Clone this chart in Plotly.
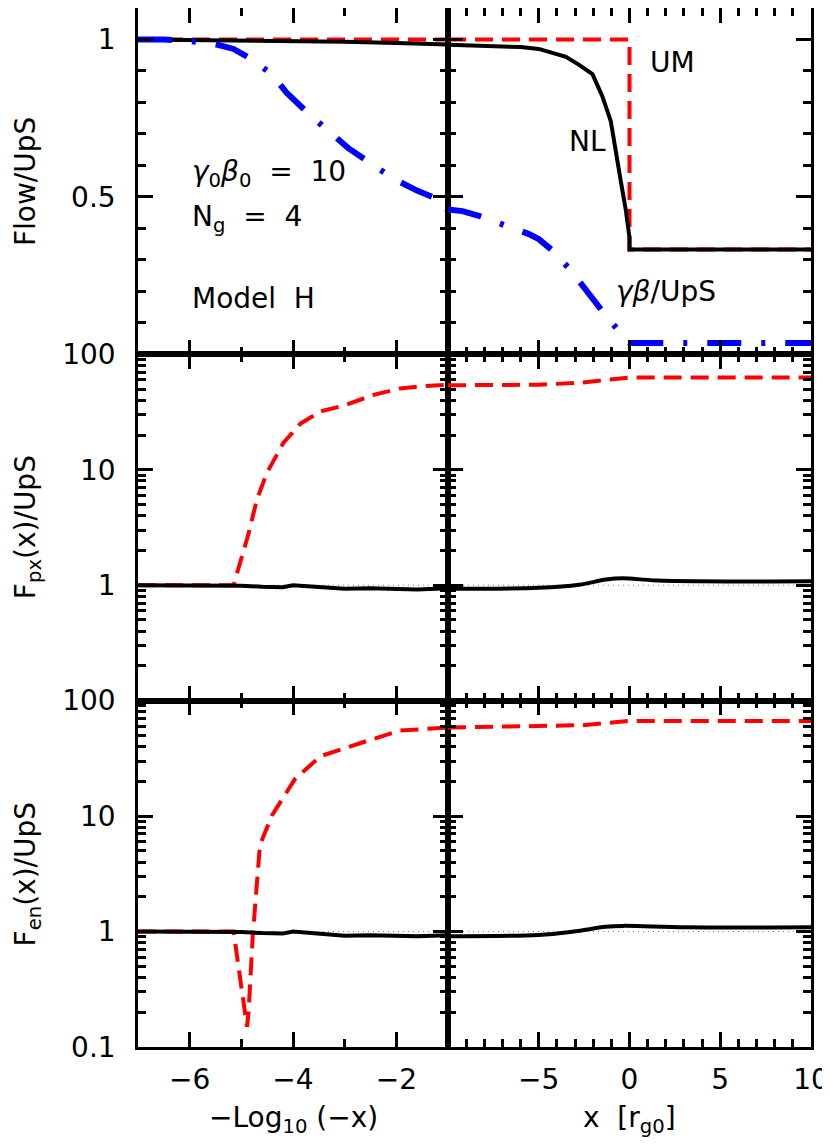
import plotly.graph_objects as go
from plotly.subplots import make_subplots

# 上段: Flow/UpS
um_left_x = [-7, -1]
um_left_y = [1.0, 1.0]
um_right_x = [-10, 0, 0, 10]
um_right_y = [1.0, 1.0, 0.333, 0.333]

nl_left_x = [-7, -6, -5, -4, -3, -2, -1]
nl_left_y = [1.0, 0.999, 0.998, 0.996, 0.993, 0.989, 0.984]
nl_right_x = [-10, -8, -6, -5, -3.5, -2.8, -2.04, -1.5, -1.03, -0.48, -0.2, 0, 0, 10]
nl_right_y = [0.983, 0.98, 0.976, 0.97, 0.945, 0.92, 0.89, 0.82, 0.74, 0.55, 0.457, 0.37, 0.333, 0.333]

gb_left_x = [-7, -6.5, -6, -5.5, -5.15, -4.83, -4.41, -4.12, -3.67, -3.31, -2.93, -2.44, -2.02, -1.6, -1.3, -1.08, -1]
gb_left_y = [1.0, 1.0, 0.995, 0.985, 0.97, 0.94, 0.89, 0.83, 0.76, 0.71, 0.655, 0.60, 0.555, 0.52, 0.50, 0.477, 0.456]
gb_right_x = [-10, -9.2, -8.3, -7, -5.54, -5, -4.25, -3.24, -2.41, -1.4, -0.48, 0, 10]
gb_right_y = [0.46, 0.455, 0.44, 0.414, 0.382, 0.366, 0.33, 0.267, 0.203, 0.13, 0.067, 0.036, 0.036]

# 中段: F_px/UpS
px_um_left_x = [-7, -6, -5.15, -4.86, -4.70, -4.51, -4.19, -3.86, -3.47, -3.02, -2.44, -1.93, -1.5, -1]
px_um_left_y = [1.0, 1.0, 1.0, 2.8, 5.5, 9.3, 17, 25, 32, 36, 44.5, 50.7, 53, 54.5]
px_um_right_x = [-10, -5, -2.6, -1.1, 0, 5, 10]
px_um_right_y = [54, 54.5, 57, 60, 63, 63, 63]
px_nl_left_x = [-7, -6, -5, -4.6, -4.2, -4.0, -3.5, -3.0, -2.5, -2, -1.6, -1]
px_nl_left_y = [1.0, 1.0, 0.99, 0.97, 0.96, 1.0, 0.96, 0.93, 0.94, 0.925, 0.92, 0.94]
px_nl_right_x = [-10, -5, -2.78, -1.3, -0.38, 1.5, 10]
px_nl_right_y = [0.93, 0.95, 1.01, 1.12, 1.15, 1.10, 1.08]

# 下段: F_en/UpS
en_um_left_x = [-7, -6, -5.15, -4.93, -4.89, -4.86, -4.78, -4.64, -4.41, -3.96, -3.47, -2.69, -1.93, -1]
en_um_left_y = [1.0, 1.0, 1.0, 0.2, 0.15, 0.2, 0.9, 5.6, 10.1, 21, 33, 43, 55, 58.5]
en_um_right_x = [-10, -5, -2.6, -0.94, 0, 5, 10]
en_um_right_y = [58.5, 59.6, 61.3, 64.6, 66.8, 66.5, 66.5]
en_nl_left_x = [-7, -6, -5, -4.6, -4.2, -4.0, -3.5, -3.0, -2.5, -2, -1.6, -1]
en_nl_left_y = [1.0, 1.0, 0.99, 0.97, 0.96, 1.0, 0.96, 0.92, 0.93, 0.91, 0.91, 0.93]
en_nl_right_x = [-10, -5, -3.1, -1.3, -0.4, 3.1, 10]
en_nl_right_y = [0.91, 0.935, 1.0, 1.1, 1.12, 1.09, 1.09]

# 基準線 (=1)
ref_left_x = [-7, -1]
ref_right_x = [-10, 10]
ref_y = [1, 1]

log_minor = [0.2, 0.3, 0.4, 0.5, 0.6, 0.7, 0.8, 0.9,
             2, 3, 4, 5, 6, 7, 8, 9,
             20, 30, 40, 50, 60, 70, 80, 90]

FONT = 'DejaVu Sans'
red = dict(color='#ff0000', width=4, dash='18px,9px')
black = dict(color='black', width=4)
blue = dict(color='#0000ff', width=6, dash='34px,20px,4px,20px')
dotted = dict(color='#777777', width=1, dash='1px,4px')

fig = make_subplots(rows=3, cols=2, column_widths=[310, 363],
                    horizontal_spacing=0, vertical_spacing=0)


def add(x, y, line, row, col, shape='linear'):
    fig.add_trace(go.Scatter(x=x, y=y, mode='lines', line=dict(shape=shape, **line),
                             showlegend=False, hoverinfo='skip'), row=row, col=col)


# 上段
add(um_left_x, um_left_y, red, 1, 1)
add(nl_left_x, nl_left_y, black, 1, 1)
add(gb_left_x, gb_left_y, blue, 1, 1)
add(um_right_x, um_right_y, red, 1, 2)
add(nl_right_x, nl_right_y, black, 1, 2)
add(gb_right_x, gb_right_y, blue, 1, 2)

# 中段・下段
for row, (ulx, uly, urx, ury, nlx, nly, nrx, nry) in {
    2: (px_um_left_x, px_um_left_y, px_um_right_x, px_um_right_y,
        px_nl_left_x, px_nl_left_y, px_nl_right_x, px_nl_right_y),
    3: (en_um_left_x, en_um_left_y, en_um_right_x, en_um_right_y,
        en_nl_left_x, en_nl_left_y, en_nl_right_x, en_nl_right_y),
}.items():
    add(ref_left_x, ref_y, dotted, row, 1)
    add(ref_right_x, ref_y, dotted, row, 2)
    add(ulx, uly, red, row, 1)
    add(nlx, nly, black, row, 1)
    add(urx, ury, red, row, 2)
    add(nrx, nry, black, row, 2, shape='spline')

axis_common = dict(
    showline=True, linewidth=2.5, linecolor='black', mirror='ticks',
    ticks='inside', ticklen=15, tickwidth=2.5, tickcolor='black',
    showgrid=False, zeroline=False, automargin=False,
    tickfont=dict(family=FONT, size=28, color='black'),
)
minor_common = dict(ticks='inside', ticklen=8, tickwidth=2.5, tickcolor='black')

for row in (1, 2, 3):
    fig.update_xaxes(axis_common, row=row, col=1, range=[-7, -1],
                     tickvals=[-6, -4, -2], showticklabels=(row == 3),
                     ticklabelstandoff=6,
                     minor=dict(minor_common, dtick=1, tick0=-7))
    fig.update_xaxes(axis_common, row=row, col=2, range=[-10, 10],
                     tickvals=[-5, 0, 5, 10], showticklabels=(row == 3),
                     ticklabelstandoff=6,
                     minor=dict(minor_common, dtick=1, tick0=-10))

for col in (1, 2):
    fig.update_yaxes(axis_common, row=1, col=col, range=[0, 1.1],
                     tickvals=[0.5, 1], ticktext=['0.5', '1'], showticklabels=(col == 1),
                     ticklabelstandoff=14,
                     minor=dict(minor_common, dtick=0.1, tick0=0))
    fig.update_yaxes(axis_common, row=2, col=col, type='log', range=[-1, 2],
                     tickvals=[1, 10, 100], ticktext=['1', '10', '100'],
                     showticklabels=(col == 1), ticklabelstandoff=14,
                     minor=dict(minor_common, tickmode='array', tickvals=log_minor))
    fig.update_yaxes(axis_common, row=3, col=col, type='log', range=[-1, 2],
                     tickvals=[0.1, 1, 10, 100], ticktext=['0.1', '1', '10', '100'],
                     showticklabels=(col == 1), ticklabelstandoff=14,
                     minor=dict(minor_common, tickmode='array', tickvals=log_minor))

tf = dict(family=FONT, size=28, color='black')
annotations = [
    # 軸タイトル
    dict(text='Flow/UpS', x=-0.168, y=5 / 6, xref='paper', yref='paper', textangle=-90),
    dict(text='F<sub>px</sub>(x)/UpS', x=-0.164, y=0.5, xref='paper', yref='paper', textangle=-90),
    dict(text='F<sub>en</sub>(x)/UpS', x=-0.164, y=1 / 6, xref='paper', yref='paper', textangle=-90),
    dict(text='\u2212Log<sub>10</sub> (\u2212x)', x=-4, y=-0.07, xref='x5', yref='paper'),
    dict(text='x \u00a0[r<sub>g0</sub>]', x=0, y=-0.07, xref='x6', yref='paper'),
    # パネル内ラベル
    dict(text='<i>\u03b3</i><sub>0</sub><i>\u03b2</i><sub>0</sub> \u00a0=\u00a0 10', x=-6.0, y=0.575,
         xref='x', yref='y', xanchor='left'),
    dict(text='N<sub>g</sub> \u00a0=\u00a0 4', x=-6.0, y=0.43, xref='x', yref='y', xanchor='left'),
    dict(text='Model \u00a0H', x=-6.0, y=0.177, xref='x', yref='y', xanchor='left'),
    dict(text='UM', x=1.0, y=0.928, xref='x2', yref='y2', xanchor='left'),
    dict(text='NL', x=-3.45, y=0.675, xref='x2', yref='y2', xanchor='left'),
    dict(text='<i>\u03b3\u03b2</i>/UpS', x=-0.85, y=0.2, xref='x2', yref='y2', xanchor='left'),
]
for a in annotations:
    a.setdefault('xanchor', 'center')
    a.update(showarrow=False, font=tf, yanchor='middle')

fig.update_layout(
    width=830, height=1145,
    margin=dict(l=130, r=27, t=0, b=106, autoexpand=False),
    paper_bgcolor='white', plot_bgcolor='white',
    font=dict(family=FONT, color='black'),
    annotations=annotations,
)

fig.write_html('out.html')
